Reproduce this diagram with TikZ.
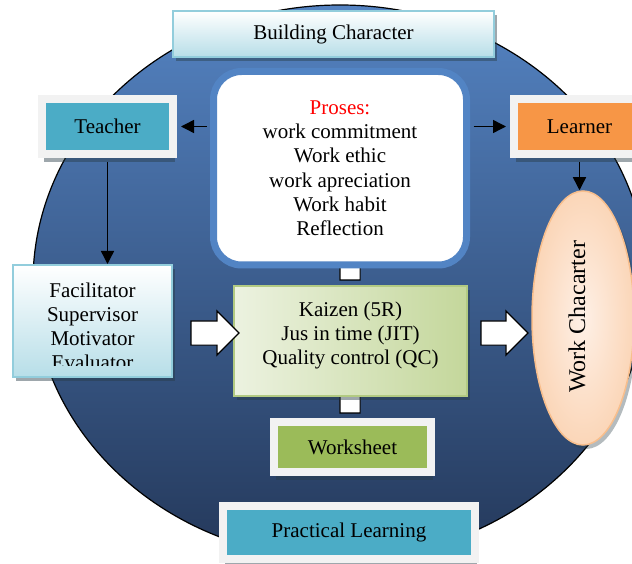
\documentclass[tikz,border=0pt]{standalone}
\usepackage{fontspec}
\setmainfont{LiberationSerif-Regular.ttf}[BoldFont=LiberationSerif-Bold.ttf]
\usetikzlibrary{arrows.meta,shapes.geometric,shapes.arrows,shadows}
\definecolor{colorBg}{RGB}{84,131,194}
\definecolor{colorBgDark}{RGB}{36,56,90}
\definecolor{colorRing}{RGB}{82,132,196}
\definecolor{colorAqua}{RGB}{75,172,198}
\definecolor{colorFrame}{RGB}{242,242,242}
\definecolor{colorOrange}{RGB}{247,150,70}
\definecolor{colorGreen}{RGB}{155,187,89}
\definecolor{colorIce}{RGB}{183,222,232}
\definecolor{colorIceLine}{RGB}{146,205,220}
\definecolor{colorLime}{RGB}{196,215,155}
\definecolor{colorLimeLight}{RGB}{236,242,224}
\definecolor{colorLimeLine}{RGB}{178,202,130}
\definecolor{colorPeach}{RGB}{251,214,184}
\definecolor{colorPeachLine}{RGB}{248,190,140}
\definecolor{colorPeachLight}{RGB}{254,240,230}
\definecolor{colorShadow}{RGB}{40,60,70}

\begin{document}
\begin{tikzpicture}[x=1pt, y=-1pt, font=\rmfamily\fontsize{21}{24.2}\selectfont,
		framebox/.style={draw=colorFrame, line width=8pt, minimum height=55pt, inner sep=0pt,
			drop shadow={shadow xshift=2pt, shadow yshift=-8pt, opacity=.45, fill=colorShadow}},
		icebox/.style={draw=colorIceLine, line width=2pt, top color=white, bottom color=colorIce,
			drop shadow={shadow xshift=3pt, shadow yshift=-4pt, opacity=.45, fill=colorShadow}},
		conn/.style={line width=1.4pt, -{Triangle[length=13pt,width=13pt]}},
		blockarrow/.style={single arrow, draw=black, fill=white, line width=1.2pt,
			inner xsep=0pt, single arrow head extend=10pt},
	]
	\useasboundingbox (0,0) rectangle (632,564);
	% background
	\draw[line width=1.2pt, top color=colorBg, bottom color=colorBgDark]
		(340,282) ellipse [x radius=307, y radius=277];
	% the short arrows go behind the boxes
	\node[blockarrow, rotate=90, minimum height=37pt, inner ysep=9.5pt, minimum width=40pt] (arrowup) at (350,266.5) {};
	\node[blockarrow, rotate=90, minimum height=41pt, inner ysep=9.5pt, minimum width=40pt] (arrowws) at (350,397.5) {};
	%
	\node[draw=colorRing, line width=7pt, fill=white, rounded corners=28pt,
		minimum width=253pt, minimum height=193.5pt, align=center] (proses) at (340,168.25)
		{\textcolor{red}{Proses:}\\work commitment\\Work ethic\\work apreciation\\Work habit\\Reflection};
	\node[icebox, minimum width=321pt, minimum height=46pt] (building) at (333.5,34) {Building Character};
	\node[framebox, fill=colorAqua, minimum width=131pt] (teacher) at (107.5,126.5) {Teacher\hspace{16pt}};
	\node[framebox, fill=colorOrange, minimum width=131pt] (learner) at (579.5,126.5) {Learner\hspace{20pt}};
	%
	\node[icebox, minimum width=159pt, minimum height=112pt] (facil) at (92.5,321) {};
	\begin{scope}
		\clip (13,265) rectangle (172,365);
		\node[align=center] (faciltext) at (92.5,326.5) {Facilitator\\Supervisor\\Motivator\\Evaluator};
	\end{scope}
	\node[draw=colorLimeLine, line width=2pt, left color=colorLimeLight, right color=colorLime,
		drop shadow={shadow xshift=3pt, shadow yshift=-4pt, opacity=.45, fill=colorShadow},
		minimum width=233pt, minimum height=110pt] (kaizen) at (350.5,341) {};
	\node[align=center] (kaizentext) at (350.5,335.5) {Kaizen (5R)\\Jus in time (JIT)\\Quality control (QC)};
	\node[framebox, fill=colorGreen, minimum width=157pt, minimum height=50pt] (worksheet) at (352.5,447) {Worksheet};
	\node[framebox, fill=colorAqua, minimum width=252pt, minimum height=53pt] (practical) at (349,532.5) {Practical Learning};
	\node[ellipse, draw=colorPeachLine, line width=1.5pt, inner color=colorPeachLight, outer color=colorPeach,
		drop shadow={shadow xshift=3pt, shadow yshift=-4pt, opacity=.35, fill=colorShadow},
		minimum width=102pt, minimum height=254pt, inner sep=0pt] (work) at (583,318) {};
	\node[rotate=90, font=\rmfamily\fontsize{24}{28}\selectfont] (worktext) at (577,317) {Work Chacarter};
	%
	\node[blockarrow, minimum height=48pt, inner ysep=11.5pt, minimum width=43pt] (arrowfk) at (209,333) {};
	\node[blockarrow, minimum height=47pt, inner ysep=11.5pt, minimum width=43pt] (arrowkw) at (498.5,333) {};
	%
	\draw[conn, shorten <=3.5pt] (proses.west |- teacher) -- ([xshift=4pt]teacher.east);
	\draw[conn, shorten <=3.5pt] (proses.east |- learner) -- ([xshift=-4pt]learner.west);
	\draw[conn, shorten <=4pt] (teacher.south) -- (teacher.south |- facil.north);
	\draw[conn, shorten <=4pt] (learner.south) -- (learner.south |- work.north);
\end{tikzpicture}
\end{document}
